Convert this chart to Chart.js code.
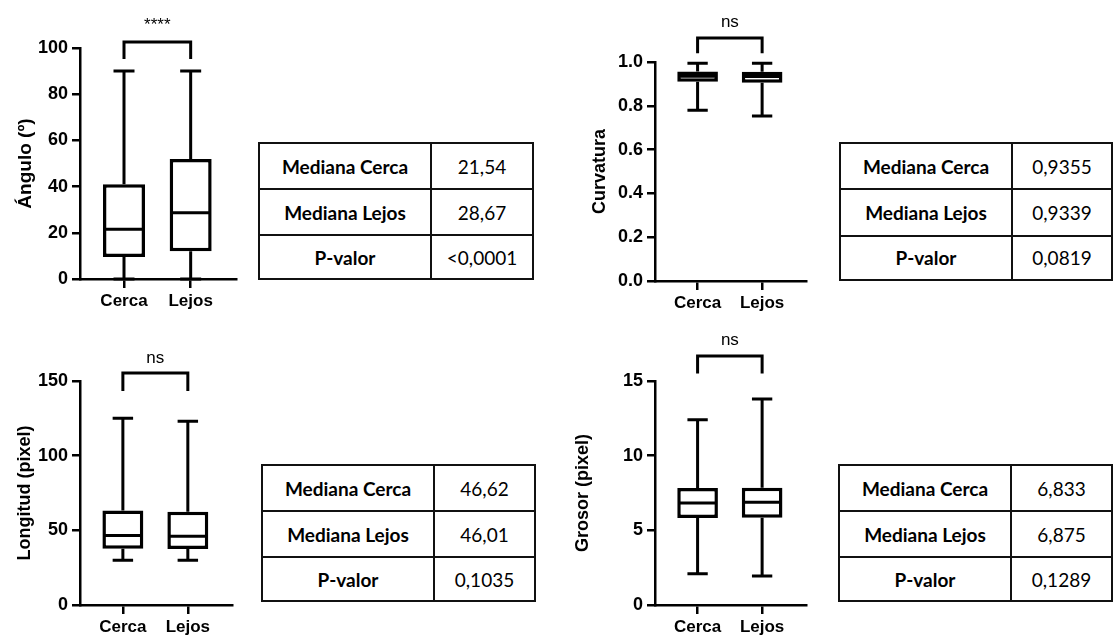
<!DOCTYPE html>
<html>
<head>
<meta charset="utf-8">
<script src="https://cdn.jsdelivr.net/npm/chart.js@4.4.1/dist/chart.umd.min.js"></script>
<style>
  body { margin: 0; background: #fff; width: 1113px; height: 635px; position: relative; overflow: hidden; }
  .plot { position: absolute; }
  table.stats { position: absolute; border-collapse: collapse; font-family: Lato, "Open Sans", sans-serif; font-size: 19px; color: #000; }
  table.stats td { border: 2px solid #111; text-align: center; padding: 0; }
  table.stats td.lbl { font-weight: bold; width: 170px; }
</style>
</head>
<body>
<div class="plot" style="left:0;top:0;width:240px;height:320px"><canvas id="c1"></canvas></div>
<div class="plot" style="left:570px;top:0;width:245px;height:320px"><canvas id="c2"></canvas></div>
<div class="plot" style="left:0;top:320px;width:240px;height:315px"><canvas id="c3"></canvas></div>
<div class="plot" style="left:570px;top:320px;width:245px;height:315px"><canvas id="c4"></canvas></div>

<table class="stats" id="t1" style="left:258px;top:142px;width:276px;height:136px"></table>
<table class="stats" id="t2" style="left:839px;top:142px;width:274px;height:139px"></table>
<table class="stats" id="t3" style="left:261px;top:464px;width:275px;height:137px"></table>
<table class="stats" id="t4" style="left:838px;top:464px;width:275px;height:138px"></table>

<script>
const categories = ['Cerca', 'Lejos'];

// [min, Q1, mediana, Q3, max]
const anguloCerca = [0, 9.5, 21.54, 41, 90];
const anguloLejos = [0, 12, 28.67, 52, 90];
const curvaturaCerca = [0.78, 0.91, 0.9355, 0.957, 0.994];
const curvaturaLejos = [0.753, 0.905, 0.9339, 0.955, 0.994];
const longitudCerca = [30, 37.7, 46.62, 63.2, 125];
const longitudLejos = [30, 37.5, 46.01, 62.5, 123];
const grosorCerca = [2.1, 5.83, 6.833, 7.84, 12.4];
const grosorLejos = [1.95, 5.85, 6.875, 7.85, 13.8];

const anguloTicks = [0, 20, 40, 60, 80, 100];
const curvaturaTicks = [0, 0.2, 0.4, 0.6, 0.8, 1.0];
const longitudTicks = [0, 50, 100, 150];
const grosorTicks = [0, 5, 10, 15];

const statLabels = ['Mediana Cerca', 'Mediana Lejos', 'P-valor'];
const anguloStats = ['21,54', '28,67', '<0,0001'];
const curvaturaStats = ['0,9355', '0,9339', '0,0819'];
const longitudStats = ['46,62', '46,01', '0,1035'];
const grosorStats = ['6,833', '6,875', '0,1289'];

Chart.defaults.font.family = '"Liberation Sans", Arial, sans-serif';
Chart.defaults.color = '#000';

// whiskers, caps, median and the significance bracket
const boxPlugin = {
  id: 'boxWhiskers',
  afterDatasetsDraw(chart, args, opts) {
    const ctx = chart.ctx;
    const xs = chart.scales.x, ys = chart.scales.y;
    const meta = chart.getDatasetMeta(0);
    ctx.save();
    ctx.strokeStyle = '#000';
    ctx.lineWidth = 3;
    opts.stats.forEach((s, i) => {
      const cx = xs.getPixelForValue(i + 1);
      const half = meta.data[i].width / 2;
      const cap = half * 0.5;
      const [mn, q1, med, q3, mx] = s.map(v => ys.getPixelForValue(v));
      ctx.beginPath();
      ctx.moveTo(cx, q1); ctx.lineTo(cx, mn);
      ctx.moveTo(cx, q3); ctx.lineTo(cx, mx);
      ctx.moveTo(cx - cap, mn); ctx.lineTo(cx + cap, mn);
      ctx.moveTo(cx - cap, mx); ctx.lineTo(cx + cap, mx);
      ctx.moveTo(cx - half + 1, med); ctx.lineTo(cx + half - 1, med);
      ctx.stroke();
    });
    const [legY, topY, txtY] = opts.bracket.map(v => ys.getPixelForValue(v));
    const x1 = xs.getPixelForValue(1), x2 = xs.getPixelForValue(2);
    ctx.beginPath();
    ctx.moveTo(x1, legY); ctx.lineTo(x1, topY); ctx.lineTo(x2, topY); ctx.lineTo(x2, legY);
    ctx.stroke();
    ctx.fillStyle = '#000';
    ctx.font = '17px "Liberation Sans", Arial, sans-serif';
    ctx.textAlign = 'center';
    ctx.textBaseline = 'alphabetic';
    ctx.fillText(opts.mark, (x1 + x2) / 2, txtY);
    ctx.restore();
  }
};

function makeChart(id, cfg) {
  return new Chart(document.getElementById(id), {
    type: 'bar',
    data: {
      datasets: [{
        data: cfg.stats.map((s, i) => ({ x: i + 1, y: [s[1], s[3]] })),
        backgroundColor: '#fff',
        borderColor: '#000',
        borderWidth: 3.5,
        borderSkipped: false,
        barPercentage: 0.63,
        categoryPercentage: 1
      }]
    },
    options: {
      responsive: true,
      maintainAspectRatio: false,
      animation: false,
      layout: { padding: { top: cfg.padTop, right: cfg.padRight, left: 0, bottom: 0 } },
      plugins: {
        legend: { display: false },
        tooltip: { enabled: false },
        boxWhiskers: { stats: cfg.stats, bracket: cfg.bracket, mark: cfg.mark }
      },
      scales: {
        x: {
          type: 'linear',
          offset: false,
          min: 0.34,
          max: 2.68,
          afterBuildTicks: ax => { ax.ticks = [{ value: 1 }, { value: 2 }]; },
          afterFit: ax => { ax.height = cfg.xHeight; },
          ticks: {
            callback: v => categories[v - 1],
            font: { size: 17, weight: 'bold' },
            padding: 3,
            maxRotation: 0,
            autoSkip: false
          },
          grid: { offset: false, drawOnChartArea: false, tickLength: 9, color: '#000', lineWidth: 2.5 },
          border: { color: '#000', width: 2.5 }
        },
        y: {
          min: 0,
          max: cfg.ticks[cfg.ticks.length - 1],
          afterBuildTicks: ax => { ax.ticks = cfg.ticks.map(v => ({ value: v })); },
          afterFit: ax => { ax.width = cfg.yWidth; },
          ticks: {
            callback: v => v.toFixed(cfg.decimals),
            font: { size: 18, weight: 'bold' },
            padding: 4
          },
          grid: { drawOnChartArea: false, tickLength: 8, color: '#000', lineWidth: 2.5 },
          border: { color: '#000', width: 2.5 },
          title: {
            display: true,
            text: cfg.title,
            font: { size: cfg.titleSize, weight: 'bold' },
            padding: { top: cfg.titlePad, bottom: 0 }
          }
        }
      }
    },
    plugins: [boxPlugin]
  });
}

function makeTable(id, values) {
  const t = document.getElementById(id);
  const heights = [46, 46, 44];
  statLabels.forEach((lbl, i) => {
    const tr = document.createElement('tr');
    tr.style.height = heights[i] + 'px';
    const a = document.createElement('td');
    a.className = 'lbl';
    a.textContent = lbl;
    const b = document.createElement('td');
    b.textContent = values[i];
    tr.appendChild(a);
    tr.appendChild(b);
    t.appendChild(tr);
  });
}

makeChart('c1', {
  stats: [anguloCerca, anguloLejos], ticks: anguloTicks, decimals: 0,
  title: 'Ángulo (º)', titleSize: 19, mark: '****', bracket: [95.2, 102.6, 108],
  yWidth: 80, padTop: 48, padRight: 4, xHeight: 41, titlePad: 14
});
makeChart('c2', {
  stats: [curvaturaCerca, curvaturaLejos], ticks: curvaturaTicks, decimals: 1,
  title: 'Curvatura', titleSize: 18, mark: 'ns', bracket: [1.04, 1.11, 1.16],
  yWidth: 85, padTop: 62, padRight: 9, xHeight: 39, titlePad: 19
});
makeChart('c3', {
  stats: [longitudCerca, longitudLejos], ticks: longitudTicks, decimals: 0,
  title: 'Longitud (pixel)', titleSize: 18, mark: 'ns', bracket: [143.3, 155.4, 162.3],
  yWidth: 80, padTop: 61, padRight: 8, xHeight: 30, titlePad: 14
});
makeChart('c4', {
  stats: [grosorCerca, grosorLejos], ticks: grosorTicks, decimals: 0,
  title: 'Grosor (pixel)', titleSize: 18, mark: 'ns', bracket: [15.5, 16.67, 17.4],
  yWidth: 85, padTop: 61, padRight: 9, xHeight: 30, titlePad: 2
});

makeTable('t1', anguloStats);
makeTable('t2', curvaturaStats);
makeTable('t3', longitudStats);
makeTable('t4', grosorStats);
</script>
</body>
</html>
